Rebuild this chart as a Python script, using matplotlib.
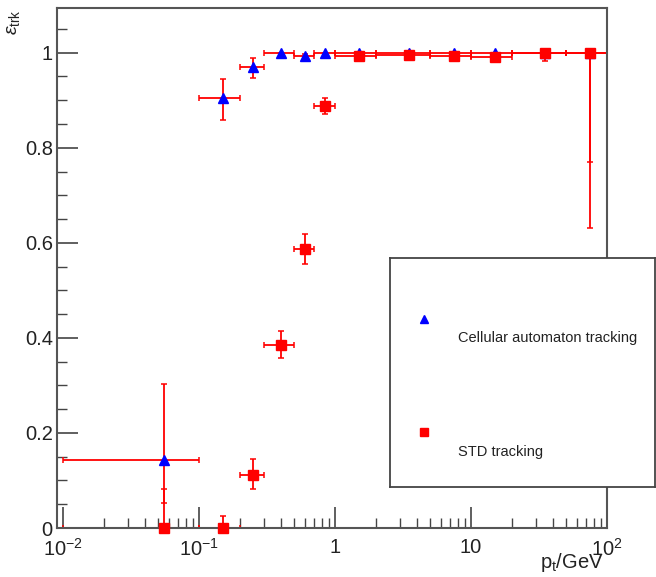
import numpy as np
import matplotlib
matplotlib.use("Agg")
import matplotlib.pyplot as plt
from matplotlib.ticker import FixedLocator, LogLocator, MultipleLocator, NullFormatter

plt.rcParams["font.family"] = ["Liberation Sans", "DejaVu Sans"]
plt.rcParams["mathtext.fontset"] = "custom"
plt.rcParams["mathtext.rm"] = "Liberation Sans"
plt.rcParams["mathtext.it"] = "Liberation Sans:italic"

# pt bins (GeV)
pt_center = [0.055, 0.15, 0.25, 0.4, 0.6, 0.85, 1.5, 3.5, 7.5, 15, 35, 75]
pt_low = [0.01, 0.1, 0.2, 0.3, 0.5, 0.7, 1, 2, 5, 10, 20, 50]
pt_high = [0.1, 0.2, 0.3, 0.5, 0.7, 1.0, 2, 5, 10, 20, 50, 100]

# cellular automaton tracking
ca_eff = [0.143, 0.905, 0.970, 0.999, 0.994, 1.0, 1.0, 1.0, 1.0, 1.0, 1.0, 1.0]
ca_err_lo = [0.09, 0.046, 0.023, 0.003, 0.009, 0.002, 0.002, 0.001, 0.001, 0.001, 0.001, 0.231]
ca_err_hi = [0.16, 0.040, 0.019, 0.001, 0.004, 0.0, 0.0, 0.0, 0.0, 0.0, 0.0, 0.0]

# STD tracking
std_eff = [0.0, 0.0, 0.112, 0.384, 0.586, 0.888, 0.992, 0.996, 0.993, 0.991, 1.0, 1.0]
std_err_lo = [0.0, 0.0, 0.030, 0.027, 0.031, 0.018, 0.004, 0.002, 0.004, 0.004, 0.017, 0.368]
std_err_hi = [0.082, 0.025, 0.033, 0.030, 0.032, 0.017, 0.004, 0.002, 0.004, 0.004, 0.0, 0.0]

x = np.array(pt_center)
xerr = [x - np.array(pt_low), np.array(pt_high) - x]

fig = plt.figure(figsize=(6.56, 5.77), dpi=100)
ax = fig.add_axes([57 / 656, 49 / 577, 550 / 656, 520 / 577])

ax.errorbar(x, ca_eff, yerr=[ca_err_lo, ca_err_hi], xerr=xerr, fmt="none",
            ecolor="#ff0000", elinewidth=1.3, capsize=2, capthick=1.1, zorder=2)
ax.errorbar(x, std_eff, yerr=[std_err_lo, std_err_hi], xerr=xerr, fmt="none",
            ecolor="#ff0000", elinewidth=1.3, capsize=2, capthick=1.1, zorder=2)
ax.plot(x, ca_eff, "^", color="#0000ff", ms=6.5, ls="none", zorder=3)
ax.plot(x, std_eff, "s", color="#ff0000", ms=6.5, ls="none", zorder=4, clip_on=False)

ax.set_xscale("log")
ax.set_xlim(10 ** (-2 - 6 / 136), 100)
ax.set_ylim(0, 1.094)

ax.xaxis.set_major_locator(FixedLocator([0.01, 0.1, 1, 10, 100]))
ax.set_xticklabels([r"$10^{-2}$", r"$10^{-1}$", "1", "10", r"$10^{2}$"])
ax.xaxis.set_minor_locator(LogLocator(base=10, subs=np.arange(2, 10), numticks=20))
ax.xaxis.set_minor_formatter(NullFormatter())
ax.yaxis.set_minor_locator(MultipleLocator(0.05))
ax.set_yticks([0, 0.2, 0.4, 0.6, 0.8, 1.0])
ax.set_yticklabels(["0", "0.2", "0.4", "0.6", "0.8", "1"])

ax.tick_params(which="both", direction="in", top=False, right=False,
               color="#444444", labelsize=14.5, labelcolor="#222222")
ax.tick_params(which="major", length=15, width=1.2)
ax.tick_params(which="minor", length=7.5, width=1.0)
ax.tick_params(axis="y", pad=3)
ax.tick_params(axis="x", pad=7)
for sp in ax.spines.values():
    sp.set_color("#555555")
    sp.set_linewidth(1.5)

fig.text(14 / 656, 1 - 22 / 577, r"$\epsilon_{\mathrm{trk}}$", rotation=90,
         fontsize=14, ha="center", va="center", color="#222222")
fig.text(540 / 656, 1 - 563 / 577, r"p$_{\mathrm{t}}$/GeV", fontsize=14.5,
         ha="left", va="center", color="#222222")

# legend box
lax = fig.add_axes([390 / 656, 90 / 577, 265 / 656, 229 / 577], zorder=10)
lax.set_xlim(0, 1)
lax.set_ylim(0, 1)
lax.set_xticks([])
lax.set_yticks([])
for sp in lax.spines.values():
    sp.set_color("#444444")
    sp.set_linewidth(1.3)
lax.plot([0.128], [0.734], "^", color="#0000ff", ms=6)
lax.plot([0.128], [0.240], "s", color="#ff0000", ms=6)
lax.text(0.257, 0.651, "Cellular automaton tracking", fontsize=10.5,
         va="center", ha="left", color="#222222")
lax.text(0.257, 0.153, "STD tracking", fontsize=10.5,
         va="center", ha="left", color="#222222")

fig.savefig("out.png", dpi=100)
